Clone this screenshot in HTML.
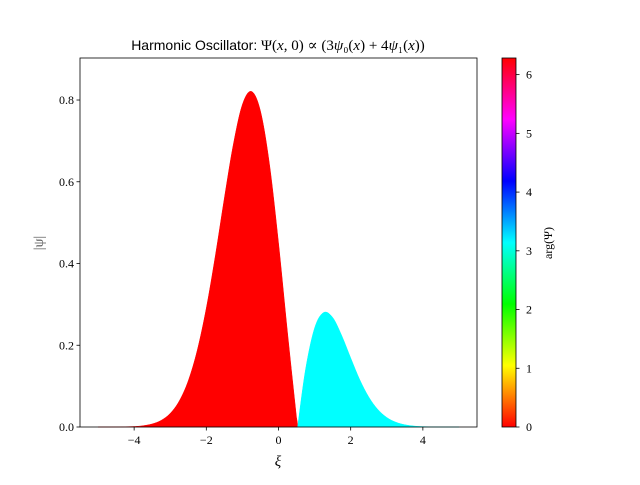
<!DOCTYPE html>
<html><head><meta charset="utf-8"><style>
html,body{margin:0;padding:0;background:#fff;}
svg text{font-family:"Liberation Serif","DejaVu Serif",serif;}
</style></head><body>
<svg id="chart" width="640" height="480" viewBox="0 0 640 480" xmlns="http://www.w3.org/2000/svg">
<defs>
<linearGradient id="hsv" x1="0" y1="1" x2="0" y2="0">
<stop offset="0" stop-color="#ff0000"/><stop offset="0.1667" stop-color="#ffff00"/>
<stop offset="0.3333" stop-color="#00ff00"/><stop offset="0.5" stop-color="#00ffff"/>
<stop offset="0.6667" stop-color="#0000ff"/><stop offset="0.8333" stop-color="#ff00ff"/>
<stop offset="1" stop-color="#ff0000"/>
</linearGradient>
</defs>
<g id="fills"></g>
<rect x="80" y="58" width="397" height="369" fill="none" stroke="#000" stroke-width="0.8"/>
<g id="axes"></g>
<text x="278" y="50" font-size="15" text-anchor="middle"><tspan font-family="Liberation Sans, sans-serif" font-size="14">Harmonic Oscillator:</tspan> Ψ(<tspan font-style="italic">x</tspan>, 0) ∝ (3<tspan font-style="italic">ψ</tspan>₀(<tspan font-style="italic">x</tspan>) + 4<tspan font-style="italic">ψ</tspan>₁(<tspan font-style="italic">x</tspan>))</text>
<text x="278" y="466" font-size="15" font-style="italic" text-anchor="middle">ξ</text>
<text transform="translate(43,243) rotate(-90)" font-size="14" text-anchor="middle" fill="#555">|ψ|</text>
<rect x="502" y="58" width="14" height="369" fill="url(#hsv)" stroke="#000" stroke-width="0.8"/>
<text transform="translate(552,243) rotate(-90)" font-size="12" text-anchor="middle">arg(Ψ)</text>
</svg>
<script>
const xs = [-5,-4.5,-4,-3.75,-3.5,-3.25,-3,-2.75,-2.5,-2.25,-2,-1.75,-1.5,-1.25,-1,-0.75,-0.5,-0.25,0,0.25,0.5,0.53,0.75,1,1.25,1.5,1.75,2,2.25,2.5,2.75,3,3.25,3.5,3.75,4,4.5,5];
const amps = [0.00002,0.00017,0.0013,0.0032,0.0075,0.0163,0.0333,0.0636,0.1131,0.188,0.291,0.419,0.560,0.692,0.789,0.821,0.773,0.643,0.451,0.231,0.0226,0,0.141,0.242,0.280,0.268,0.224,0.169,0.116,0.0735,0.043,0.0233,0.0118,0.0055,0.0024,0.001,0.00012,0.00001];
const phases = [0,0,0,0,0,0,0,0,0,0,0,0,0,0,0,0,0,0,0,0,0,0,3.1416,3.1416,3.1416,3.1416,3.1416,3.1416,3.1416,3.1416,3.1416,3.1416,3.1416,3.1416,3.1416,3.1416,3.1416,3.1416];
const xTicks = [-4,-2,0,2,4];
const yTicks = [0,0.2,0.4,0.6,0.8];
const cTicks = [0,1,2,3,4,5,6];
const NS="http://www.w3.org/2000/svg";
const X0=80,X1=477,Y0=427,Y1=58,xmin=-5.5,xmax=5.5,ymax=0.9028;
const sx=v=>X0+(v-xmin)/(xmax-xmin)*(X1-X0);
const sy=v=>Y0-v/ymax*(Y0-Y1);
const sc=v=>427-v/(2*Math.PI)*369;
function hsv(p){const h=((p/(2*Math.PI))%1+1)%1*6;const i=Math.floor(h),f=h-i;
 const q=1-f,t=f;let r,g,b;
 [[1,t,0],[q,1,0],[0,1,t],[0,q,1],[t,0,1],[1,0,q]].forEach((c,k)=>{if(k===i){[r,g,b]=c;}});
 return `rgb(${Math.round(r*255)},${Math.round(g*255)},${Math.round(b*255)})`;}
// group points into contiguous phase runs (zero-amplitude points shared)
const groups=[];let cur=null;
for(let i=0;i<xs.length;i++){
 const ph = amps[i]===0 && i+1<xs.length ? null : phases[i];
 if(cur && (ph===null || ph===cur.ph)){cur.idx.push(i);}
 else if(cur && ph!==cur.ph){cur.idx.push(i);}
 if(!cur || (ph!==null && ph!==cur.ph)){
   if(cur && amps[i]!==0){cur.idx.pop();}
   const start = (cur && amps[i-1]===0)? [i-1,i] : [i];
   cur={ph:phases[i],idx:start};groups.push(cur);
 }
}
const fills=document.getElementById('fills');
groups.forEach(g=>{
 const P=g.idx.map(i=>[sx(xs[i]),sy(amps[i])]);
 let d=`M${P[0][0]},${sy(0)} L${P[0][0]},${P[0][1]}`;
 for(let k=0;k<P.length-1;k++){
  const p0=P[Math.max(k-1,0)],p1=P[k],p2=P[k+1],p3=P[Math.min(k+2,P.length-1)];
  let c1y=p1[1]+(p2[1]-p0[1])/6,c2y=p2[1]-(p3[1]-p1[1])/6;
  c1y=Math.min(c1y,sy(0));c2y=Math.min(c2y,sy(0));
  d+=` C${p1[0]+(p2[0]-p0[0])/6},${c1y} ${p2[0]-(p3[0]-p1[0])/6},${c2y} ${p2[0]},${p2[1]}`;
 }
 d+=` L${P[P.length-1][0]},${sy(0)} Z`;
 const p=document.createElementNS(NS,'path');
 p.setAttribute('d',d);
 const col=hsv(g.ph);
 p.setAttribute('fill',col);p.setAttribute('stroke',col);p.setAttribute('stroke-width','0.5');
 
 
 fills.appendChild(p);
});
const ax=document.getElementById('axes');
function line(x1,y1,x2,y2){const l=document.createElementNS(NS,'line');l.setAttribute('x1',x1);l.setAttribute('y1',y1);l.setAttribute('x2',x2);l.setAttribute('y2',y2);l.setAttribute('stroke','#000');l.setAttribute('stroke-width','0.8');ax.appendChild(l);return l;}
function text(x,y,s,anchor){const t=document.createElementNS(NS,'text');t.setAttribute('x',x);t.setAttribute('y',y);t.setAttribute('font-size','12');t.setAttribute('text-anchor',anchor);t.textContent=s;ax.appendChild(t);return t;}
xTicks.forEach(v=>{const l=line(sx(v),Y0,sx(v),Y0+3.5);
 
 
 const t=text(sx(v),Y0+17,v<0?'−'+Math.abs(v):String(v),'middle');
 
 });
yTicks.forEach(v=>{const l=line(X0-3.5,sy(v),X0,sy(v));
 
 
 const t=text(X0-6,sy(v)+4,v.toFixed(1),'end');
 
 });
cTicks.forEach(v=>{const l=line(516,sc(v),519.5,sc(v));
 
 
 const t=text(526,sc(v)+4,String(v),'start');
 
 });
</script>
</body></html>
